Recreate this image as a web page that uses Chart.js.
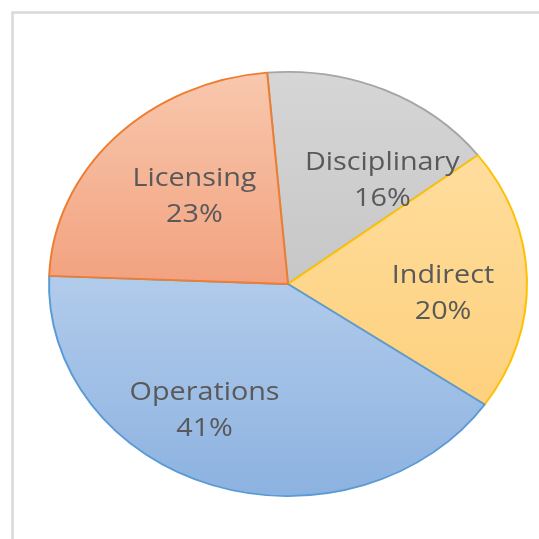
<!DOCTYPE html>
<html>
<head>
<meta charset="utf-8">
<script src="https://cdn.jsdelivr.net/npm/chart.js@4/dist/chart.umd.min.js"></script>
<style>
html,body{margin:0;padding:0;background:#fff;}
canvas{display:block;}
</style>
</head>
<body>
<canvas id="c" width="539" height="539"></canvas>
<script>
const categories = ["Disciplinary", "Indirect", "Operations", "Licensing"];
const values = [16, 20, 41, 23];
const borderColors = ["#a5a5a5", "#ffc000", "#5b9bd5", "#ed7d31"];
const gradientStops = [
  [[0, "#d6d6d6"], [0.55, "#c5c5c5"]],
  [[0.2, "#ffdd9d"], [0.85, "#fdcf79"]],
  [[0.45, "#b4cdec"], [1, "#8cb2e0"]],
  [[0, "#f8c8ae"], [0.52, "#f2a07d"]]
];
// label placement tweaks (angle offset in degrees, radius fraction)
const labelAngleOffset = [15, 5, 12, 3];
const labelRadiusFrac = [0.63, 0.65, 0.69, 0.57];

const SY = 213 / 240;   // vertical squash of the pie
const TEXT_SX = 1.15;   // horizontal stretch of label text

function makeFill(context) {
  const chart = context.chart;
  const area = chart.chartArea;
  if (!area) return "#ccc";
  const stops = gradientStops[context.dataIndex];
  const cy = (area.top + area.bottom) / 2;
  const r = Math.min(area.right - area.left, area.bottom - area.top) / 2;
  const g = chart.ctx.createLinearGradient(0, cy - r, 0, cy + r);
  stops.forEach(s => g.addColorStop(s[0], s[1]));
  return g;
}

const framePlugin = {
  id: "frame",
  beforeDraw(chart) {
    const c = chart.ctx;
    c.save();
    c.fillStyle = "#ffffff";
    c.fillRect(0, 0, chart.width, chart.height);
    c.strokeStyle = "#d9d9d9";
    c.lineWidth = 2.5;
    c.strokeRect(12.5, 12.5, 700, 700);
    c.restore();
  }
};

const ellipsePlugin = {
  id: "ellipse",
  beforeDatasetsDraw(chart) {
    const a = chart.chartArea;
    const cy = (a.top + a.bottom) / 2;
    const c = chart.ctx;
    c.save();
    c.translate(0, cy);
    c.scale(1, SY);
    c.translate(0, -cy);
  },
  afterDatasetsDraw(chart) {
    chart.ctx.restore();
  }
};

const labelPlugin = {
  id: "sliceLabels",
  afterDraw(chart) {
    const c = chart.ctx;
    const meta = chart.getDatasetMeta(0);
    const total = values.reduce((s, v) => s + v, 0);
    c.save();
    c.fillStyle = "#595959";
    c.font = "25px 'Open Sans'";
    c.textAlign = "center";
    c.textBaseline = "middle";
    meta.data.forEach((arc, i) => {
      const p = arc.getProps(["x", "y", "startAngle", "endAngle", "outerRadius"], true);
      const mid = (p.startAngle + p.endAngle) / 2 + labelAngleOffset[i] * Math.PI / 180;
      const rr = p.outerRadius * labelRadiusFrac[i];
      const x = p.x + Math.cos(mid) * rr;
      const y = p.y + Math.sin(mid) * rr * SY;
      c.save();
      c.translate(x, y);
      c.scale(TEXT_SX, 1);
      c.fillText(categories[i], 0, -17);
      c.fillText(Math.round(values[i] / total * 100) + "%", 0, 19);
      c.restore();
    });
    c.restore();
  }
};

new Chart(document.getElementById("c"), {
  type: "pie",
  data: {
    labels: categories,
    datasets: [{
      data: values,
      backgroundColor: makeFill,
      borderColor: borderColors,
      borderWidth: 2,
      clip: false
    }]
  },
  options: {
    responsive: false,
    animation: false,
    rotation: -5,
    layout: { padding: { left: 48, right: 11, top: 44, bottom: 15 } },
    plugins: {
      legend: { display: false },
      tooltip: { enabled: false }
    }
  },
  plugins: [framePlugin, ellipsePlugin, labelPlugin]
});
</script>
</body>
</html>
